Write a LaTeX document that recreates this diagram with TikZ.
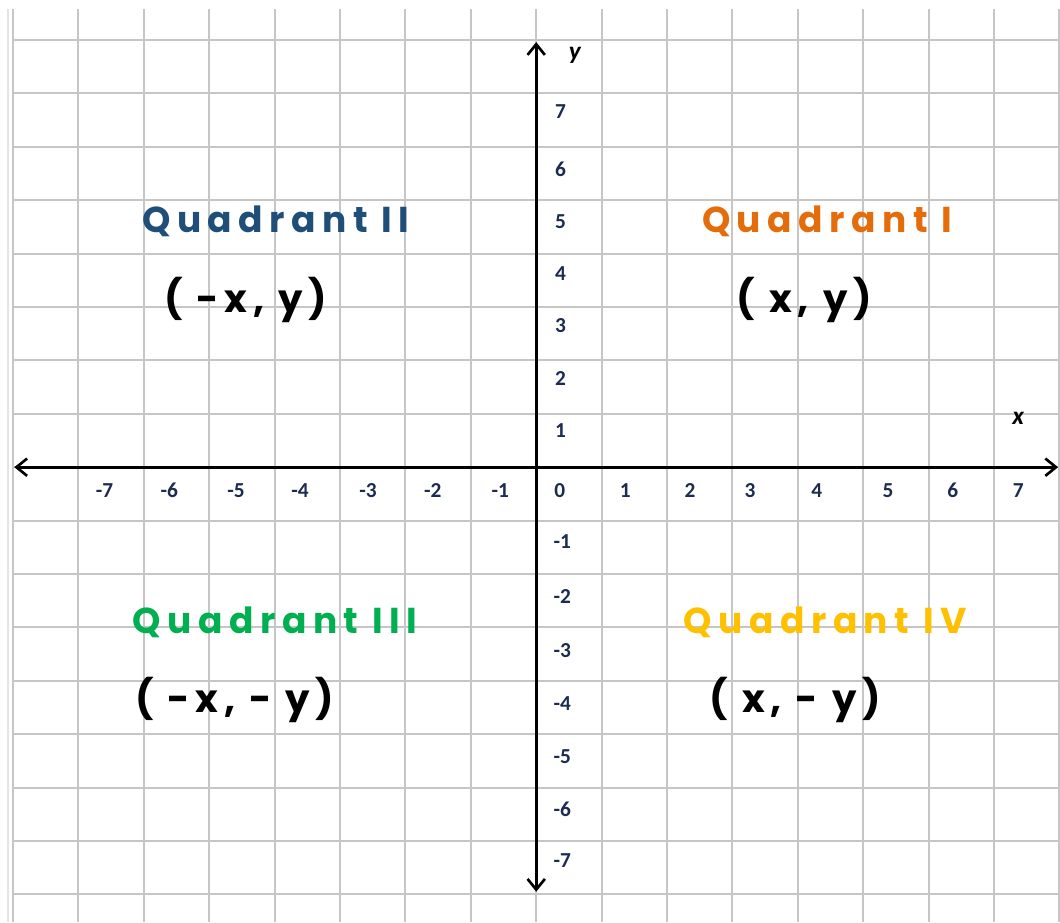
\documentclass[tikz,border=0pt]{standalone}
\usepackage{fontspec}
\usetikzlibrary{arrows.meta}
\newfontfamily\qfont{Poppins}[LetterSpace=18]
\newfontfamily\cfont{Poppins}[LetterSpace=15]
\newfontfamily\calib{Carlito}
\definecolor{gridgray}{RGB}{198,198,198}
\definecolor{edgegray}{RGB}{228,228,228}
\definecolor{tickblue}{RGB}{28,44,80}
\definecolor{qone}{RGB}{228,108,10}
\definecolor{qtwo}{RGB}{31,78,121}
\definecolor{qthree}{RGB}{0,176,80}
\definecolor{qfour}{RGB}{255,192,0}
\begin{document}
\begin{tikzpicture}[x=49.05pt,y=40.05pt,
  gridline/.style={draw=gridgray,line width=1.5pt},
  axisline/.style={draw=black,line width=2.3pt,{Straight Barb[length=8pt,width=13pt,line width=2pt]}-{Straight Barb[length=8pt,width=13pt,line width=2pt]}},
  tick/.style={font=\calib\bfseries\fontsize{16}{16}\selectfont,text=tickblue,inner sep=0pt,anchor=center},
  axislabel/.style={font=\calib\bfseries\itshape\fontsize{19}{19}\selectfont,inner sep=0pt},
  qlabel/.style={font=\qfont\bfseries\fontsize{27}{27}\selectfont,inner sep=0pt,anchor=base},
  coordlabel/.style={font=\cfont\bfseries\fontsize{29}{29}\selectfont,inner sep=0pt,anchor=base,text=black}]
\useasboundingbox[fill=white] (-8.199,-8.517) rectangle (8.009,8.749);
% light page edge
\draw[draw=edgegray,line width=1.2pt] (-8.077,-8.517) -- (-8.077,8.58);
% grid
\foreach \i in {-8,...,8} \draw[gridline] (\i,-8.517) -- (\i,8.58);
\foreach \j in {-8,...,8} \draw[gridline] (-8,\j) -- (8.009,\j);
% axes
\coordinate (xl) at (-7.98,0);
\coordinate (xr) at (7.98,0);
\coordinate (yb) at (0,-7.95);
\coordinate (yt) at (0,7.96);
\draw[axisline] (xl) -- (xr);
\draw[axisline] (yb) -- (yt);
\node[axislabel] (ylab) at (0.59,7.72) {y};
\node[axislabel] (xlab) at (7.37,0.92) {x};
% x tick labels
\node[tick] (xm7) at (-6.60,-0.43) {-7};
\node[tick] (xm6) at (-5.61,-0.43) {-6};
\node[tick] (xm5) at (-4.59,-0.43) {-5};
\node[tick] (xm4) at (-3.61,-0.43) {-4};
\node[tick] (xm3) at (-2.57,-0.43) {-3};
\node[tick] (xm2) at (-1.58,-0.43) {-2};
\node[tick] (xm1) at (-0.55,-0.43) {-1};
\node[tick] (x0) at (0.36,-0.43) {0};
\node[tick] (x1) at (1.36,-0.43) {1};
\node[tick] (x2) at (2.35,-0.43) {2};
\node[tick] (x3) at (3.27,-0.43) {3};
\node[tick] (x4) at (4.29,-0.43) {4};
\node[tick] (x5) at (5.38,-0.43) {5};
\node[tick] (x6) at (6.37,-0.43) {6};
\node[tick] (x7) at (7.37,-0.43) {7};
% y tick labels
\node[tick] (y7) at (0.37,6.65) {7};
\node[tick] (y6) at (0.37,5.57) {6};
\node[tick] (y5) at (0.37,4.59) {5};
\node[tick] (y4) at (0.37,3.62) {4};
\node[tick] (y3) at (0.37,2.66) {3};
\node[tick] (y2) at (0.37,1.67) {2};
\node[tick] (y1) at (0.37,0.68) {1};
\node[tick] (ym1) at (0.40,-1.40) {-1};
\node[tick] (ym2) at (0.40,-2.43) {-2};
\node[tick] (ym3) at (0.40,-3.44) {-3};
\node[tick] (ym4) at (0.40,-4.43) {-4};
\node[tick] (ym5) at (0.40,-5.42) {-5};
\node[tick] (ym6) at (0.40,-6.40) {-6};
\node[tick] (ym7) at (0.40,-7.37) {-7};
% quadrant labels
\node[qlabel,text=qtwo] (q2) at (-3.98,4.39) {Quadrant II};
\node[qlabel,text=qone] (q1) at (4.45,4.39) {Quadrant I};
\node[qlabel,text=qthree] (q3) at (-3.99,-3.11) {Quadrant III};
\node[qlabel,text=qfour] (q4) at (4.42,-3.11) {Quadrant IV};
% coordinate labels
\node[coordlabel] (c2) at (-4.44,2.89) {( -x, y)};
\node[coordlabel] (c1) at (4.10,2.89) {( x, y)};
\node[coordlabel] (c3) at (-4.61,-4.59) {( -x, - y)};
\node[coordlabel] (c4) at (3.96,-4.59) {( x, - y)};
\end{tikzpicture}
\end{document}
